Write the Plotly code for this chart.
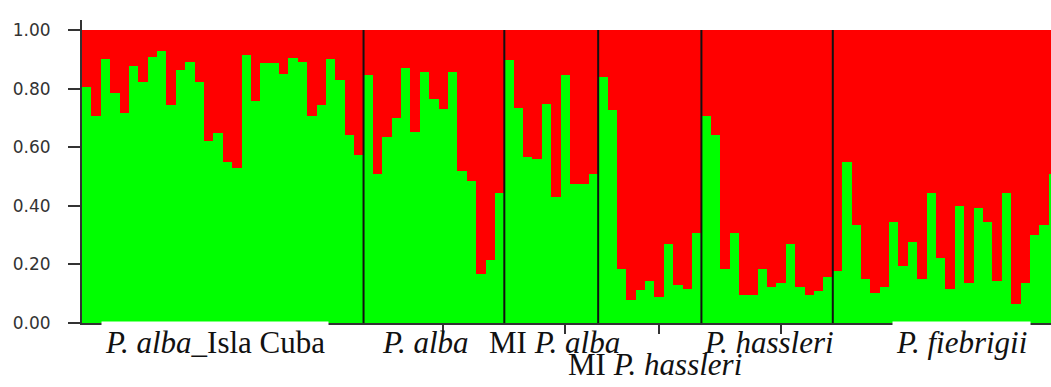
import plotly.graph_objects as go

# Proportion of membership in the green cluster (K=2); red = 1 - green
group_labels = [
    "<i>P. alba</i>_Isla Cuba",
    "<i>P. alba</i>",
    "MI <i>P. alba</i>",
    "MI <i>P. hassleri</i>",
    "<i>P. hassleri</i>",
    "<i>P. fiebrigii</i>",
]

alba_cuba = [0.807, 0.708, 0.900, 0.784, 0.715, 0.878, 0.823, 0.907, 0.928, 0.744,
             0.864, 0.892, 0.822, 0.622, 0.650, 0.551, 0.528, 0.914, 0.759, 0.886,
             0.886, 0.850, 0.906, 0.892, 0.708, 0.743, 0.900, 0.830, 0.642, 0.572]
alba = [0.848, 0.509, 0.636, 0.701, 0.869, 0.651, 0.856, 0.764, 0.731, 0.856,
        0.520, 0.485, 0.166, 0.216, 0.443]
mi_alba = [0.898, 0.735, 0.566, 0.558, 0.749, 0.430, 0.848, 0.474, 0.474, 0.508]
mi_hassleri = [0.841, 0.727, 0.186, 0.080, 0.114, 0.142, 0.088, 0.270, 0.130,
               0.116, 0.307]
hassleri = [0.707, 0.642, 0.186, 0.307, 0.094, 0.094, 0.186, 0.123, 0.136, 0.270,
            0.123, 0.094, 0.108, 0.158]
fiebrigii = [0.178, 0.549, 0.334, 0.150, 0.101, 0.123, 0.343, 0.193, 0.278, 0.151,
             0.443, 0.222, 0.116, 0.400, 0.136, 0.392, 0.343, 0.144, 0.443, 0.066,
             0.136, 0.300, 0.334, 0.507]

groups = [alba_cuba, alba, mi_alba, mi_hassleri, hassleri, fiebrigii]
y_ticks = [0.0, 0.2, 0.4, 0.6, 0.8, 1.0]

green = [v for g in groups for v in g]
red = [1 - v for v in green]
idx = list(range(len(green)))

# group boundaries and label anchors
starts = []
pos = 0
for g in groups:
    starts.append(pos)
    pos += len(g)
bounds = [s - 0.5 for s in starts[1:]]
tick_pos = [s + len(g) // 2 + 1 for s, g in zip(starts, groups)]
centers = [s + (len(g) - 1) / 2 for s, g in zip(starts, groups)]

fig = go.Figure()
fig.add_trace(go.Bar(x=idx, y=green, marker=dict(color="#00FF00", line=dict(width=0)),
                     hoverinfo="skip"))
fig.add_trace(go.Bar(x=idx, y=red, marker=dict(color="#FF0000", line=dict(width=0)),
                     hoverinfo="skip"))

for b in bounds:
    fig.add_shape(type="line", xref="x", yref="y", x0=b, x1=b, y0=0, y1=1,
                  line=dict(color="#111111", width=2), layer="above")

label_font = dict(family="Liberation Serif", size=31, color="#111111")
xshifts = [-8, -8, 3, 5, 2, 16]
rows = [0, 0, 0, 1, 0, 0]
covers = [True, False, False, False, False, True]
for i, lab in enumerate(group_labels):
    r = rows[i]
    cov = covers[i]
    fig.add_annotation(x=centers[i], xref="x", y=0, yref="paper", yanchor="top",
                       text=lab, showarrow=False, font=label_font,
                       xshift=xshifts[i], yshift=0 - 22 * r + (2 if cov else 0),
                       bgcolor="white" if cov else "rgba(0,0,0,0)",
                       borderpad=3 if cov else 1)

fig.update_layout(
    width=1051, height=387,
    margin=dict(l=82, r=0, t=20, b=64),
    barmode="stack", bargap=0,
    showlegend=False,
    plot_bgcolor="white", paper_bgcolor="white",
    xaxis=dict(range=[-0.5, 102.75], showgrid=False, zeroline=False,
               showline=True, linecolor="#333333", linewidth=2,
               tickmode="array", tickvals=tick_pos, ticktext=[""] * len(tick_pos),
               ticks="outside", ticklen=9, tickwidth=1.5, tickcolor="#333333"),
    yaxis=dict(range=[0, 1.034], showgrid=False, zeroline=False,
               showline=True, linecolor="#333333", linewidth=2,
               tickmode="array", tickvals=y_ticks,
               ticktext=[f"{v:.2f}" for v in y_ticks],
               ticks="outside", ticklen=12, tickwidth=1.5, tickcolor="#333333",
               tickfont=dict(family="DejaVu Sans", size=17, color="#333333"),
               ticklabelstandoff=14),
)

fig.write_html("out.html")
